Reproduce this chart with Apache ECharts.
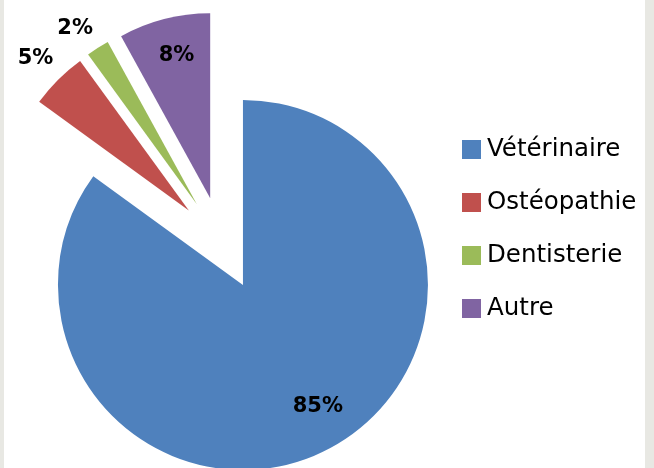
<!DOCTYPE html>
<html><head><meta charset="utf-8">
<script src="https://cdn.jsdelivr.net/npm/echarts@6/dist/echarts.min.js"></script>
<style>html,body{margin:0;padding:0;background:#e8e8e3;}#c{position:absolute;left:4px;top:0;width:641px;height:468px;background:#fff;}</style>
</head><body><div id="c"></div>
<script>
const categories = ['Vétérinaire', 'Ostéopathie', 'Dentisterie', 'Autre'];
const values = [85, 5, 2, 8];

// styling (not data)
const colors = ['#4f81bd', '#c0504d', '#9bbb59', '#8064a2'];
const insideLabel = [true, false, false, true];
const labelPadding = [[0, 0, 0, 16], [0, 12, 0, 0], [0, 20, 0, 0], [0, 0, 0, 6]];
const labelFormat = ['{d}%\n', '{d}%\n', '{d}%', '{d}%'];
const labelLineHeight = [20, 9, 24, 24];

const R = 185;
const center = [217.8, 243.5];
const offset = 46.6;

function baseSeries() {
  return {
    type: 'pie',
    center: center,
    startAngle: 90,
    clockwise: true,
    selectedMode: 'multiple',
    selectedOffset: offset,
    avoidLabelOverlap: false,
    animation: false,
    labelLine: { show: false },
    emphasis: { disabled: true, scale: false },
  };
}

const mainSeries = Object.assign(baseSeries(), {
  name: 'main',
  radius: [0, R],
  label: { show: false },
  data: categories.map((c, i) => ({ name: c, value: values[i], selected: true, itemStyle: { color: colors[i] } }))
});

function labelSeries(radius, showFn) {
  return Object.assign(baseSeries(), {
    radius: radius,
    silent: true,
    data: categories.map((c, i) => ({
      name: c, value: values[i], selected: true,
      itemStyle: { color: 'rgba(0,0,0,0)' },
      label: {
        show: showFn(i), position: 'inside', formatter: labelFormat[i],
        padding: labelPadding[i], lineHeight: labelLineHeight[i],
        color: '#000', fontFamily: 'DejaVu Sans', fontWeight: 'bold', fontSize: 21
      }
    }))
  });
}

const option = {
  backgroundColor: '#fff',
  legend: {
    orient: 'vertical', left: 458, top: 137, padding: 0,
    itemWidth: 19, itemHeight: 19, itemGap: 28, icon: 'rect',
    selectedMode: false,
    data: categories,
    textStyle: { fontFamily: 'DejaVu Sans', fontSize: 24.5, lineHeight: 24, color: '#000', padding: [0, 0, 0, 1] }
  },
  series: [
    mainSeries,
    labelSeries([R * 0.56, R], i => insideLabel[i]),
    labelSeries([R * 1.0, R * 1.22], i => !insideLabel[i])
  ]
};
const chart = echarts.init(document.getElementById('c'), null, { renderer: 'canvas' });
chart.setOption(option);
</script></body></html>
